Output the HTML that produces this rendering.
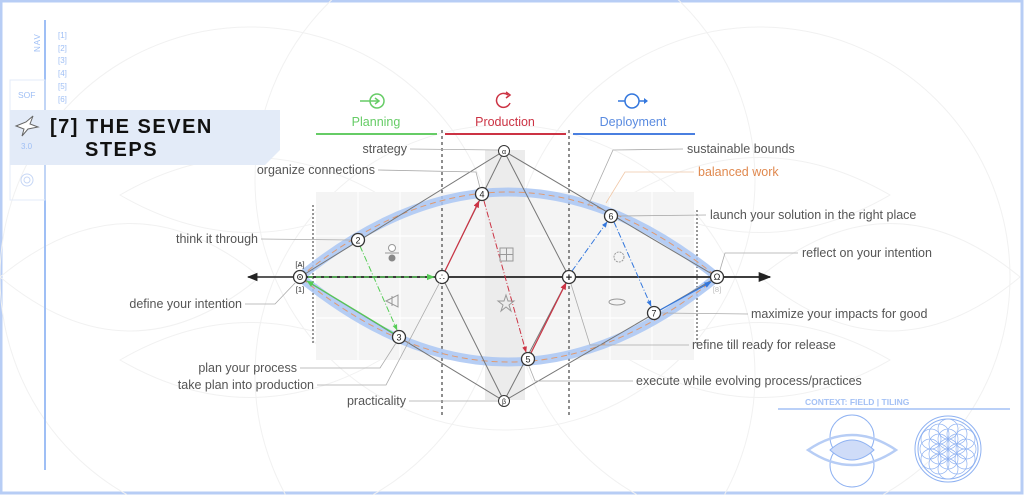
<!DOCTYPE html>
<html><head><meta charset="utf-8"><style>
html,body{margin:0;padding:0;background:#fff;width:1024px;height:495px;overflow:hidden;}
svg{display:block;font-family:"Liberation Sans",sans-serif;}
.l{font-size:12.5px;fill:#555;}
.ld{stroke:#aaa;stroke-width:0.8;fill:none;}
</style></head><body>
<svg width="1024" height="495" viewBox="0 0 1024 495" xmlns="http://www.w3.org/2000/svg">
<defs>
<marker id="ak" viewBox="0 0 10 10" refX="9" refY="5" markerWidth="7" markerHeight="7" orient="auto"><path d="M0,1L10,5L0,9z" fill="#222"/></marker>
<marker id="ag" viewBox="0 0 10 10" refX="9" refY="5" markerWidth="6" markerHeight="6" orient="auto"><path d="M0,1L10,5L0,9z" fill="#5c5"/></marker>
<marker id="ar" viewBox="0 0 10 10" refX="9" refY="5" markerWidth="6" markerHeight="6" orient="auto"><path d="M0,1L10,5L0,9z" fill="#c34"/></marker>
<marker id="ab" viewBox="0 0 10 10" refX="9" refY="5" markerWidth="6" markerHeight="6" orient="auto"><path d="M0,1L10,5L0,9z" fill="#37d"/></marker>
</defs>
<rect x="1" y="1" width="1021" height="492" fill="none" stroke="#b7cdf5" stroke-width="3"/>
<g fill="none" stroke="#f1f1f1" stroke-width="1">
<circle cx="505" cy="180" r="250"/><circle cx="505" cy="375" r="250"/>
<circle cx="250" cy="277" r="250"/><circle cx="760" cy="277" r="250"/>
<path d="M120,195 Q250,120 380,195 Q250,270 120,195z"/><path d="M120,360 Q250,285 380,360 Q250,435 120,360z"/>
<path d="M630,195 Q760,120 890,195 Q760,270 630,195z"/><path d="M630,360 Q760,285 890,360 Q760,435 630,360z"/>
<path d="M0,277 Q130,170 260,277 Q130,385 0,277z"/><path d="M760,277 Q890,170 1020,277 Q890,385 760,277z"/>
</g>
<rect x="316" y="192" width="378" height="168" fill="#f4f4f4"/>
<g stroke="#fff" stroke-width="1.2"><line x1="358" y1="192" x2="358" y2="360"/><line x1="400" y1="192" x2="400" y2="360"/><line x1="610" y1="192" x2="610" y2="360"/><line x1="652" y1="192" x2="652" y2="360"/><line x1="316" y1="236" x2="694" y2="236"/><line x1="316" y1="318" x2="694" y2="318"/></g>
<rect x="485" y="150" width="40" height="250" fill="#ececec"/>
<g stroke="#444" stroke-width="1.2" stroke-dasharray="3,3"><line x1="442" y1="130" x2="442" y2="415"/><line x1="569" y1="130" x2="569" y2="415"/></g>
<g stroke="#333" stroke-width="1" stroke-dasharray="2,2"><line x1="313" y1="205" x2="313" y2="345"/><line x1="697" y1="210" x2="697" y2="345"/></g>
<path d="M300,277 Q508,107 717,277 Q508,447 300,277z" fill="none" stroke="#a9c6f3" stroke-width="9" opacity="0.85"/>
<path d="M300,277 Q508,107 717,277 Q508,447 300,277z" fill="none" stroke="#e09a70" stroke-width="1" stroke-dasharray="6,4"/>
<g stroke="#777" stroke-width="1" fill="none">
<path d="M300,277 L504,151 L717,277 L504,401 Z"/>
<path d="M442,277 L504,151 L569,277 L504,401 Z"/>
</g>
<line x1="300" y1="277" x2="248" y2="277" stroke="#222" stroke-width="1.5" marker-end="url(#ak)"/>
<line x1="300" y1="277" x2="770" y2="277" stroke="#222" stroke-width="1.8" marker-end="url(#ak)"/>
<line x1="308" y1="277" x2="434" y2="277" stroke="#5c5" stroke-width="1.3" stroke-dasharray="5,3" marker-end="url(#ag)"/>
<line x1="360" y1="246" x2="397" y2="330" stroke="#5c5" stroke-width="1" stroke-dasharray="6,2,1,2" marker-end="url(#ag)"/>
<line x1="393" y1="333" x2="307" y2="281" stroke="#5c5" stroke-width="1.2" marker-end="url(#ag)"/>
<line x1="445" y1="271" x2="479" y2="201" stroke="#c34" stroke-width="1.2" marker-end="url(#ar)"/>
<line x1="484" y1="201" x2="526" y2="352" stroke="#c34" stroke-width="1" stroke-dasharray="6,2,1,2" marker-end="url(#ar)"/>
<line x1="531" y1="353" x2="566" y2="283" stroke="#c34" stroke-width="1.2" marker-end="url(#ar)"/>
<line x1="572" y1="271" x2="607" y2="222" stroke="#37d" stroke-width="1" stroke-dasharray="6,2,1,2" marker-end="url(#ab)"/>
<line x1="614" y1="222" x2="651" y2="306" stroke="#37d" stroke-width="1" stroke-dasharray="6,2,1,2" marker-end="url(#ab)"/>
<line x1="660" y1="310" x2="711" y2="282" stroke="#37d" stroke-width="1.2" marker-end="url(#ab)"/>
<g fill="none" stroke="#999" stroke-width="1">
<circle cx="392" cy="248" r="3.5" fill="#fff"/><line x1="385" y1="253" x2="399" y2="253"/><circle cx="392" cy="258" r="3.5" fill="#888" stroke="none"/>
<rect x="500" y="248" width="13" height="13"/><line x1="506.5" y1="248" x2="506.5" y2="261"/><line x1="500" y1="254.5" x2="513" y2="254.5"/>
<path d="M506,295 L508,301 L514,301 L509,305 L511,311 L506,307 L501,311 L503,305 L498,301 L504,301Z"/>
<path d="M386,301 L398,295 L398,307Z M392,296 L392,306"/>
<ellipse cx="617" cy="302" rx="8" ry="3"/>
<circle cx="619" cy="257" r="5" stroke-dasharray="2,1"/>
</g>
<g font-size="9" text-anchor="middle" fill="#222">
<g stroke="#333" stroke-width="1.3" fill="#fff">
<circle cx="300" cy="277" r="6.5"/><circle cx="442" cy="277" r="6.5"/><circle cx="569" cy="277" r="6.5"/><circle cx="717" cy="277" r="6.5"/>
<circle cx="504" cy="151" r="5.5" stroke-width="1"/><circle cx="504" cy="401" r="5.5" stroke-width="1"/>
<circle cx="482" cy="194" r="6.5"/><circle cx="358" cy="240" r="6.5"/><circle cx="399" cy="337" r="6.5"/><circle cx="528" cy="359" r="6.5"/><circle cx="611" cy="216" r="6.5"/><circle cx="654" cy="313" r="6.5"/>
</g>
<circle cx="300" cy="277" r="2.5" fill="none" stroke="#333"/><circle cx="300" cy="277" r="0.8"/>
<text x="442" y="280">∴</text><text x="569" y="281" font-weight="bold" font-size="11">+</text><text x="717" y="280">Ω</text>
<text x="504" y="154" font-size="7">α</text><text x="504" y="404" font-size="7">β</text>
<text x="482" y="197.5">4</text><text x="358" y="243.5">2</text><text x="399" y="340.5">3</text><text x="528" y="362.5">5</text><text x="611" y="219.5">6</text><text x="654" y="316.5">7</text>
<text x="300" y="267" font-size="7.5">[A]</text><text x="300" y="292" font-size="7.5">[1]</text><text x="717" y="292" font-size="7.5" fill="#bbb">[8]</text>
</g>
<g fill="none" stroke-width="1.5">
<circle cx="377" cy="101" r="7" stroke="#6c6"/><line x1="360" y1="101" x2="378" y2="101" stroke="#6c6"/><path d="M375,98 L379,101 L375,104" stroke="#6c6"/>
<path d="M508,95 A7,7 0 1 0 510,103" stroke="#c34"/><path d="M506,92 L510,95 L506,98" stroke="#c34"/>
<circle cx="632" cy="101" r="7" stroke="#37d"/><line x1="618" y1="101" x2="625" y2="101" stroke="#37d"/><line x1="639" y1="101" x2="647" y2="101" stroke="#37d"/><path d="M644,98 L648,101 L644,104z" fill="#37d" stroke="none"/>
</g>
<g font-size="12.5" text-anchor="middle"><text x="376" y="126" fill="#6c6">Planning</text><text x="505" y="126" fill="#c34">Production</text><text x="633" y="126" fill="#5a8be0">Deployment</text></g>
<line x1="316" y1="134" x2="437" y2="134" stroke="#6c6" stroke-width="2"/><line x1="445" y1="134" x2="566" y2="134" stroke="#c34" stroke-width="2"/><line x1="573" y1="134" x2="695" y2="134" stroke="#4a7fe0" stroke-width="2"/>
<g class="ld">
<path d="M410,149 L498,150"/><path d="M378,170 L476,172 L480,188"/><path d="M261,239 L351,240"/>
<path d="M245,304 L275,304 L296,282"/><path d="M300,368 L380,368 L396,343"/><path d="M317,385 L386,385 L440,282"/><path d="M409,401 L498,401"/>
<path d="M683,149 L613,150 L588,206"/><path d="M694,172 L625,172 L606,203" stroke="#f0c8a8"/><path d="M706,215 L618,216"/><path d="M798,253 L725,253 L720,270"/>
<path d="M748,314 L661,313"/><path d="M689,345 L590,345 L571,284"/><path d="M633,381 L535,381 L529,366"/>
</g>
<g class="l">
<text x="407" y="153" text-anchor="end">strategy</text>
<text x="375" y="174" text-anchor="end">organize connections</text>
<text x="258" y="243" text-anchor="end">think it through</text>
<text x="242" y="308" text-anchor="end">define your intention</text>
<text x="297" y="372" text-anchor="end">plan your process</text>
<text x="314" y="389" text-anchor="end">take plan into production</text>
<text x="406" y="405" text-anchor="end">practicality</text>
<text x="687" y="153">sustainable bounds</text>
<text x="698" y="176" fill="#e0894f">balanced work</text>
<text x="710" y="219">launch your solution in the right place</text>
<text x="802" y="257">reflect on your intention</text>
<text x="751" y="318">maximize your impacts for good</text>
<text x="692" y="349">refine till ready for release</text>
<text x="636" y="385">execute while evolving process/practices</text>
</g>
<line x1="45" y1="20" x2="45" y2="470" stroke="#9fbff5" stroke-width="2"/>
<rect x="10" y="80" width="35" height="120" fill="none" stroke="#e3ebf8"/>
<path d="M10,110 L280,110 L280,150 L265,165 L10,165Z" fill="#e3ebf8"/>
<text x="40" y="52" transform="rotate(-90 40 52)" font-size="8" fill="#9fbff5" letter-spacing="1">NAV</text>
<g font-size="8" fill="#9fbff5"><text x="58" y="38">[1]</text><text x="58" y="51">[2]</text><text x="58" y="63">[3]</text><text x="58" y="76">[4]</text><text x="58" y="89">[5]</text><text x="58" y="102">[6]</text>
<text x="18" y="98" font-size="8.5">SOF</text><text x="21" y="149">3.0</text></g>
<path d="M16,126 L26,122 L33,116 L30,124 L38,127 L28,129 L22,136 L24,129Z" fill="#fff" stroke="#666" stroke-width="1"/>
<g stroke="#c7d7f5" fill="none"><circle cx="27" cy="180" r="6"/><circle cx="27" cy="180" r="3"/></g>
<text x="50" y="133" font-size="20" font-weight="bold" fill="#111" letter-spacing="1.5">[7] THE SEVEN</text>
<text x="85" y="156" font-size="20" font-weight="bold" fill="#111" letter-spacing="1.5">STEPS</text>
<text x="805" y="405" font-size="8.5" fill="#a4c1f5" font-weight="bold">CONTEXT: FIELD | TILING</text>
<line x1="778" y1="409" x2="1010" y2="409" stroke="#a4c1f5" stroke-width="1.5"/>
<g fill="none" stroke="#8fb2f2" stroke-width="1">
<circle cx="852" cy="437" r="22"/><circle cx="852" cy="465" r="22"/>
<path d="M808,450 Q852,420 896,450 Q852,480 808,450z" stroke-width="2.5" stroke="#b7cdf5"/>
<path d="M830,450 Q852,430 874,450 Q852,470 830,450z" fill="#cfdcf8"/>
<circle cx="948" cy="449" r="33"/><circle cx="948" cy="449" r="30"/>
<g stroke-width="0.7">
<circle cx="948" cy="449" r="10"/><circle cx="948" cy="439" r="10"/><circle cx="948" cy="459" r="10"/><circle cx="939" cy="444" r="10"/><circle cx="957" cy="444" r="10"/><circle cx="939" cy="454" r="10"/><circle cx="957" cy="454" r="10"/>
<circle cx="948" cy="429" r="10"/><circle cx="948" cy="469" r="10"/><circle cx="931" cy="439" r="10"/><circle cx="965" cy="439" r="10"/><circle cx="931" cy="459" r="10"/><circle cx="965" cy="459" r="10"/>
<circle cx="939" cy="434" r="10"/><circle cx="957" cy="434" r="10"/><circle cx="939" cy="464" r="10"/><circle cx="957" cy="464" r="10"/><circle cx="930" cy="449" r="10"/><circle cx="966" cy="449" r="10"/>
</g></g>
</svg>
</body></html>
